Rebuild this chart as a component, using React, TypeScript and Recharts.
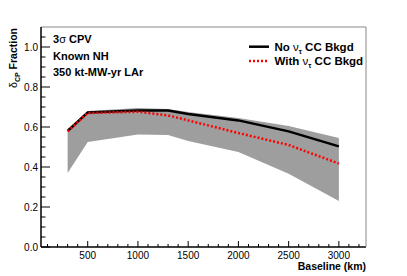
import React from 'react';
import {
  ComposedChart, Area, Line, XAxis, YAxis, ReferenceLine,
} from 'recharts';

// baselines (km) and the delta-CP fractions
const baselines = [300, 500, 1000, 1300, 1500, 2000, 2500, 3000];
const noTauBkgd = [0.58, 0.673, 0.683, 0.683, 0.665, 0.633, 0.578, 0.503];
const withTauBkgd = [0.578, 0.67, 0.676, 0.658, 0.633, 0.57, 0.51, 0.417];
const bandLow = [0.37, 0.525, 0.563, 0.56, 0.53, 0.475, 0.366, 0.23];
const bandHigh = [0.59, 0.68, 0.695, 0.69, 0.675, 0.645, 0.605, 0.545];

const xMajorTicks = [500, 1000, 1500, 2000, 2500, 3000];
const yMajorTicks = ['0.0', '0.2', '0.4', '0.6', '0.8', '1.0'];

const xMinorTicks: number[] = [];
for (let v = 100; v <= 3200; v += 100) xMinorTicks.push(v);
const yMinorTicks: number[] = [];
for (let i = 0; i <= 21; i++) yMinorTicks.push(Math.round(i * 5) / 100);

const data = baselines.map((b, i) => ({
  baseline: b,
  noTau: noTauBkgd[i],
  withTau: withTauBkgd[i],
  band: [bandLow[i], bandHigh[i]],
}));

const FONT = '"Liberation Sans", Arial, Helvetica, sans-serif';

const XTick = (props: any) => {
  const { x, y, payload } = props;
  const v = payload.value;
  const major = xMajorTicks.includes(v);
  return (
    <g>
      <line x1={x} x2={x} y1={y} y2={y - (major ? 6 : 3)} stroke="#000" strokeWidth={1} />
      {major && (
        <text x={x} y={y + 12} textAnchor="middle" fontSize={10} fontFamily={FONT} fill="#000">
          {v}
        </text>
      )}
    </g>
  );
};

const YTick = (props: any) => {
  const { x, y, payload } = props;
  const v = payload.value;
  const label = v.toFixed(1);
  const major = Math.abs(v * 5 - Math.round(v * 5)) < 1e-6 && yMajorTicks.includes(label);
  return (
    <g>
      <line x1={x} x2={x + (major ? 9 : 4.5)} y1={y} y2={y} stroke="#000" strokeWidth={1} />
      {major && (
        <text x={x - 3} y={y + 3.5} textAnchor="end" fontSize={10} fontFamily={FONT} fill="#000">
          {label}
        </text>
      )}
    </g>
  );
};

export default function App() {
  return (
    <div style={{ position: 'absolute', left: 0, top: 0, width: 407, height: 276, background: '#fff' }}>
      <ComposedChart
        width={407}
        height={276}
        data={data}
        margin={{ top: 27, right: 41, left: 0, bottom: 9 }}
      >
        <XAxis
          dataKey="baseline"
          type="number"
          domain={[35, 3270]}
          ticks={xMinorTicks}
          interval={0}
          tickSize={0}
          tickMargin={0}
          tickLine={false}
          tick={<XTick />}
          height={20}
          axisLine={{ stroke: '#000', strokeWidth: 1.5 }}
          allowDataOverflow
        />
        <YAxis
          type="number"
          domain={[0, 1.1]}
          ticks={yMinorTicks}
          interval={0}
          tickSize={0}
          tickMargin={0}
          tickLine={false}
          tick={<YTick />}
          width={41}
          axisLine={{ stroke: '#000', strokeWidth: 1.5 }}
          allowDataOverflow
        />
        <ReferenceLine y={1.1} stroke="#888" strokeWidth={1} />
        <Area
          type="linear"
          dataKey="band"
          stroke="none"
          fill="#9e9e9e"
          fillOpacity={1}
          isAnimationActive={false}
        />
        <Line
          type="linear"
          dataKey="noTau"
          stroke="#000"
          strokeWidth={2.5}
          dot={false}
          isAnimationActive={false}
        />
        <Line
          type="linear"
          dataKey="withTau"
          stroke="#ff0000"
          strokeWidth={2.5}
          strokeDasharray="2 2"
          dot={false}
          isAnimationActive={false}
        />
      </ComposedChart>
      <svg
        width={407}
        height={276}
        style={{ position: 'absolute', left: 0, top: 0, pointerEvents: 'none' }}
        fontFamily={FONT}
      >
        {/* right frame edge */}
        <line x1={366} x2={366} y1={27} y2={247} stroke="#888" strokeWidth={1} />

        {/* legend */}
        <line x1={249} x2={269} y1={46.7} y2={46.7} stroke="#000" strokeWidth={2.5} />
        <text x={274.5} y={50.8} fontSize={11.5} fontWeight="bold">
          No <tspan fontWeight="normal">ν</tspan>
          <tspan fontSize={7} dy={3}>τ</tspan>
          <tspan dy={-3}> CC Bkgd</tspan>
        </text>
        <line x1={249} x2={269} y1={61} y2={61} stroke="#ff0000" strokeWidth={2.5} strokeDasharray="2 2" />
        <text x={274.5} y={65.2} fontSize={11.5} fontWeight="bold">
          With <tspan fontWeight="normal">ν</tspan>
          <tspan fontSize={7} dy={3}>τ</tspan>
          <tspan dy={-3}> CC Bkgd</tspan>
        </text>

        <text x={53} y={43} fontSize={11} fontWeight="bold">3<tspan fontWeight="normal">σ</tspan> CPV</text>
        <text x={53} y={59.5} fontSize={11} fontWeight="bold">Known NH</text>
        <text x={53} y={76} fontSize={11} fontWeight="bold">350 kt-MW-yr LAr</text>
        <text x={366} y={270} fontSize={10.5} fontWeight="bold" textAnchor="end">Baseline (km)</text>
        <text transform="translate(17, 28) rotate(-90)" fontSize={10.5} fontWeight="bold" textAnchor="end">
          <tspan fontWeight="normal">δ</tspan>
          <tspan fontSize={7} dy={3}>CP</tspan>
          <tspan dy={-3}> Fraction</tspan>
        </text>
      </svg>
    </div>
  );
}
